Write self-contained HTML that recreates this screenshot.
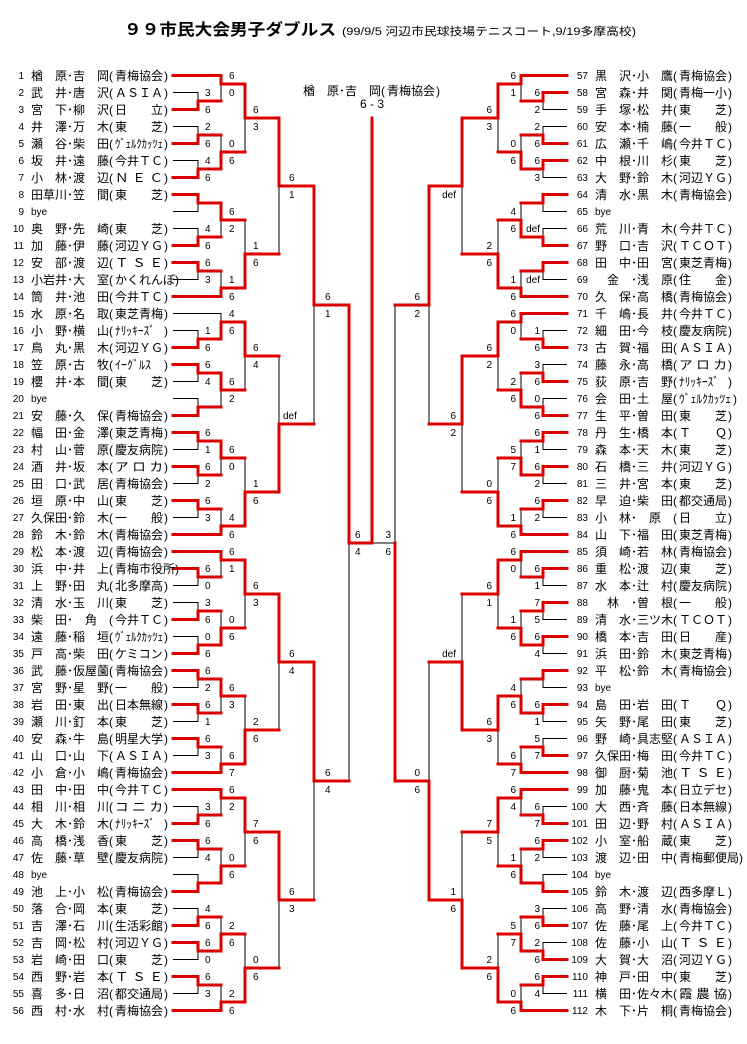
<!DOCTYPE html>
<html><head><meta charset="utf-8">
<style>
html,body{margin:0;padding:0;background:#fff;}
svg{display:block;}
.n{font-family:"Liberation Sans","Noto Sans CJK JP",sans-serif;font-size:12px;fill:#000;}
.d{font-family:"Liberation Sans",sans-serif;font-size:10px;fill:#000;}
.e{text-anchor:end;}
.t{font-family:"Liberation Sans","Noto Sans CJK JP",sans-serif;fill:#000;}
</style></head><body>
<svg width="747" height="1044" viewBox="0 0 747 1044" xmlns="http://www.w3.org/2000/svg">
<rect width="747" height="1044" fill="#fff"/>
<text class="t" x="124" y="35" font-size="16" font-weight="bold" textLength="212" lengthAdjust="spacingAndGlyphs">９９市民大会男子ダブルス</text>
<text class="t" x="342" y="35" font-size="11" textLength="294" lengthAdjust="spacingAndGlyphs">(99/9/5 河辺市民球技場テニスコート,9/19多摩高校)</text>
<text class="n" y="95"><tspan x="303">楢　原</tspan><tspan x="339">･</tspan><tspan x="345">吉　岡</tspan><tspan x="381">(</tspan><tspan x="387">青梅協会</tspan><tspan x="436">)</tspan></text>
<text class="n" x="372" y="108" text-anchor="middle">6 - 3</text>

<g fill="none" stroke="#000" stroke-width="1" shape-rendering="crispEdges">
<path d="M173 92.5H198V101M173 126.5H198V135M173 160.5H198V169M173 211.5H198V203M173 228.5H198V237M173 279.5H198V271M173 330.5H198V339M173 381.5H198V373M173 398.5H198V407M173 449.5H198V441M173 483.5H198V475M173 517.5H198V509M173 585.5H198V577M173 602.5H198V611M173 636.5H198V645M173 687.5H198V679M173 721.5H198V713M173 755.5H198V747M173 806.5H198V815M173 857.5H198V849M173 874.5H198V883M173 908.5H198V917M173 959.5H198V951M173 993.5H198V985"/>
<path d="M221 101V84M221 135V152M221 237V220M221 271V288M173 313.5H221V322M221 407V390M221 475V458M221 509V526M221 577V560M221 611V628M221 713V696M221 747V764M221 815V798M221 849V866M221 917V934M221 985V1002"/>
<path d="M245 152V118M245 220V254M245 390V356M245 458V492M245 628V594M245 696V730M245 866V832M245 934V968"/>
<path d="M279 254V186M279 356V424M279 730V662M279 968V900M314 424V305M314 900V781M349 781V543"/>
<path d="M567 109.5H543V101M567 126.5H543V135M567 177.5H543V169M567 211.5H543V203M567 228.5H543V237M567 279.5H543V271M567 330.5H543V339M567 364.5H543V373M567 398.5H543V407M567 449.5H543V441M567 483.5H543V475M567 517.5H543V509M567 585.5H543V577M567 619.5H543V611M567 653.5H543V645M567 687.5H543V679M567 721.5H543V713M567 738.5H543V747M567 806.5H543V815M567 857.5H543V849M567 874.5H543V883M567 908.5H543V917M567 942.5H543V951M567 993.5H543V985"/>
<path d="M521 101V84M521 135V152M521 203V220M521 271V288M521 339V322M521 373V390M521 441V458M521 509V526M521 577V560M521 611V628M521 679V696M521 747V764M521 815V798M521 849V866M521 917V934M521 985V1002"/>
<path d="M498 152V118M498 220V254M498 390V356M498 458V492M498 628V594M498 764V730M498 866V832M498 934V968"/>
<path d="M462 254V186M462 492V424M462 594V662M462 832V900M429 424V305M429 662V781M395 305V543H372"/>
</g>

<g fill="none" stroke="#dc0000" stroke-width="3" stroke-linecap="square" shape-rendering="crispEdges">
<path d="M173 109.5H198V101H221M173 143.5H198V135H221M173 177.5H198V169H221M173 194.5H198V203H221M173 245.5H198V237H221M173 262.5H198V271H221M173 347.5H198V339H221M173 364.5H198V373H221M173 415.5H198V407H221M173 432.5H198V441H221M173 466.5H198V475H221M173 500.5H198V509H221M173 568.5H198V577H221M173 619.5H198V611H221M173 653.5H198V645H221M173 670.5H198V679H221M173 704.5H198V713H221M173 738.5H198V747H221M173 823.5H198V815H221M173 840.5H198V849H221M173 891.5H198V883H221M173 925.5H198V917H221M173 942.5H198V951H221M173 976.5H198V985H221"/>
<path d="M173 75.5H221V84H245M221 169V152H245M221 203V220H245M173 296.5H221V288H245M221 339V322H245M221 373V390H245M221 441V458H245M173 534.5H221V526H245M173 551.5H221V560H245M221 645V628H245M221 679V696H245M173 772.5H221V764H245M173 789.5H221V798H245M221 883V866H245M221 951V934H245M173 1010.5H221V1002H245"/>
<path d="M245 84V118H279M245 288V254H279M245 322V356H279M245 526V492H279M245 560V594H279M245 764V730H279M245 798V832H279M245 1002V968H279"/>
<path d="M279 118V186H314M279 492V424H314M279 594V662H314M279 832V900H314M314 186V305H349M314 662V781H349M349 305V543H372V118"/>
<path d="M567 92.5H543V101H521M567 143.5H543V135H521M567 160.5H543V169H521M567 194.5H543V203H521M567 245.5H543V237H521M567 262.5H543V271H521M567 347.5H543V339H521M567 381.5H543V373H521M567 415.5H543V407H521M567 432.5H543V441H521M567 466.5H543V475H521M567 500.5H543V509H521M567 568.5H543V577H521M567 602.5H543V611H521M567 636.5H543V645H521M567 670.5H543V679H521M567 704.5H543V713H521M567 755.5H543V747H521M567 823.5H543V815H521M567 840.5H543V849H521M567 891.5H543V883H521M567 925.5H543V917H521M567 959.5H543V951H521M567 976.5H543V985H521"/>
<path d="M567 75.5H521V84H498M521 169V152H498M521 237V220H498M567 296.5H521V288H498M567 313.5H521V322H498M521 407V390H498M521 475V458H498M567 534.5H521V526H498M567 551.5H521V560H498M521 645V628H498M521 713V696H498M567 772.5H521V764H498M567 789.5H521V798H498M521 883V866H498M521 951V934H498M567 1010.5H521V1002H498"/>
<path d="M498 84V118H462M498 288V254H462M498 322V356H462M498 526V492H462M498 560V594H462M498 696V730H462M498 798V832H462M498 1002V968H462"/>
<path d="M462 118V186H429M462 356V424H429M462 730V662H429M462 968V900H429M429 186V305H395M429 900V781H395M395 781V543"/>
</g>

<g transform="translate(0,0)"><text class="d e" x="24" y="79">1</text><text class="n" y="80"><tspan x="31">楢　原</tspan><tspan x="67">･</tspan><tspan x="73">吉　岡</tspan><tspan x="109">(</tspan><tspan x="115">青梅協会</tspan><tspan x="164">)</tspan></text><text class="d e" x="588" y="79">57</text><text class="n" y="80"><tspan x="595">黒　沢</tspan><tspan x="631">･</tspan><tspan x="637">小　鷹</tspan><tspan x="673">(</tspan><tspan x="679">青梅協会</tspan><tspan x="728">)</tspan></text><text class="d" x="229" y="79">6</text><text class="d e" x="516" y="79">6</text></g>
<g transform="translate(0,17)"><text class="d e" x="24" y="79">2</text><text class="n" y="80"><tspan x="31">武　井</tspan><tspan x="67">･</tspan><tspan x="73">唐　沢</tspan><tspan x="109">(</tspan><tspan x="115">ＡＳＩＡ</tspan><tspan x="164">)</tspan></text><text class="d e" x="588" y="79">58</text><text class="n" y="80"><tspan x="595">宮　森</tspan><tspan x="631">･</tspan><tspan x="637">井　関</tspan><tspan x="673">(</tspan><tspan x="679">青梅一小</tspan><tspan x="728">)</tspan></text><text class="d" x="205" y="79">3</text><text class="d" x="229" y="79">0</text><text class="d e" x="540" y="79">6</text><text class="d e" x="516" y="79">1</text></g>
<g transform="translate(0,34)"><text class="d e" x="24" y="79">3</text><text class="n" y="80"><tspan x="31">宮　下</tspan><tspan x="67">･</tspan><tspan x="73">柳　沢</tspan><tspan x="109">(</tspan><tspan x="115">日　　立</tspan><tspan x="164">)</tspan></text><text class="d e" x="588" y="79">59</text><text class="n" y="80"><tspan x="595">手　塚</tspan><tspan x="631">･</tspan><tspan x="637">松　井</tspan><tspan x="673">(</tspan><tspan x="679">東　　芝</tspan><tspan x="728">)</tspan></text><text class="d" x="205" y="79">6</text><text class="d" x="253" y="79">6</text><text class="d e" x="540" y="79">2</text><text class="d e" x="492" y="79">6</text></g>
<g transform="translate(0,51)"><text class="d e" x="24" y="79">4</text><text class="n" y="80"><tspan x="31">井　澤</tspan><tspan x="67">･</tspan><tspan x="73">万　木</tspan><tspan x="109">(</tspan><tspan x="115">東　　芝</tspan><tspan x="164">)</tspan></text><text class="d e" x="588" y="79">60</text><text class="n" y="80"><tspan x="595">安　本</tspan><tspan x="631">･</tspan><tspan x="637">楠　藤</tspan><tspan x="673">(</tspan><tspan x="679">一　　般</tspan><tspan x="728">)</tspan></text><text class="d" x="205" y="79">2</text><text class="d" x="253" y="79">3</text><text class="d e" x="540" y="79">2</text><text class="d e" x="492" y="79">3</text></g>
<g transform="translate(0,68)"><text class="d e" x="24" y="79">5</text><text class="n" y="80"><tspan x="31">瀬　谷</tspan><tspan x="67">･</tspan><tspan x="73">柴　田</tspan><tspan x="109">(</tspan><tspan x="164">)</tspan></text><text class="n" x="115" y="80" textLength="48" lengthAdjust="spacingAndGlyphs">ｳﾞｪﾙｸｶｯﾂｪ</text><text class="d e" x="588" y="79">61</text><text class="n" y="80"><tspan x="595">広　瀬</tspan><tspan x="631">･</tspan><tspan x="637">千　嶋</tspan><tspan x="673">(</tspan><tspan x="679">今井ＴＣ</tspan><tspan x="728">)</tspan></text><text class="d" x="205" y="79">6</text><text class="d" x="229" y="79">0</text><text class="d e" x="540" y="79">6</text><text class="d e" x="516" y="79">0</text></g>
<g transform="translate(0,85)"><text class="d e" x="24" y="79">6</text><text class="n" y="80"><tspan x="31">坂　井</tspan><tspan x="67">･</tspan><tspan x="73">遠　藤</tspan><tspan x="109">(</tspan><tspan x="115">今井ＴＣ</tspan><tspan x="164">)</tspan></text><text class="d e" x="588" y="79">62</text><text class="n" y="80"><tspan x="595">中　根</tspan><tspan x="631">･</tspan><tspan x="637">川　杉</tspan><tspan x="673">(</tspan><tspan x="679">東　　芝</tspan><tspan x="728">)</tspan></text><text class="d" x="205" y="79">4</text><text class="d" x="229" y="79">6</text><text class="d e" x="540" y="79">6</text><text class="d e" x="516" y="79">6</text></g>
<g transform="translate(0,102)"><text class="d e" x="24" y="79">7</text><text class="n" y="80"><tspan x="31">小　林</tspan><tspan x="67">･</tspan><tspan x="73">渡　辺</tspan><tspan x="109">(</tspan><tspan x="164">)</tspan></text><text class="n" x="115" y="80" textLength="48" lengthAdjust="spacingAndGlyphs">Ｎ Ｅ Ｃ</text><text class="d e" x="588" y="79">63</text><text class="n" y="80"><tspan x="595">大　野</tspan><tspan x="631">･</tspan><tspan x="637">鈴　木</tspan><tspan x="673">(</tspan><tspan x="679">河辺ＹＧ</tspan><tspan x="728">)</tspan></text><text class="d" x="205" y="79">6</text><text class="d" x="289" y="79">6</text><text class="d e" x="540" y="79">3</text></g>
<g transform="translate(0,119)"><text class="d e" x="24" y="79">8</text><text class="n" y="80"><tspan x="31">田草川</tspan><tspan x="67">･</tspan><tspan x="73">笠　間</tspan><tspan x="109">(</tspan><tspan x="115">東　　芝</tspan><tspan x="164">)</tspan></text><text class="d e" x="588" y="79">64</text><text class="n" y="80"><tspan x="595">清　水</tspan><tspan x="631">･</tspan><tspan x="637">黒　木</tspan><tspan x="673">(</tspan><tspan x="679">青梅協会</tspan><tspan x="728">)</tspan></text><text class="d" x="289" y="79">1</text><text class="d e" x="456" y="79">def</text></g>
<g transform="translate(0,136)"><text class="d e" x="24" y="79">9</text><text class="d" x="31" y="79">bye</text><text class="d e" x="588" y="79">65</text><text class="d" x="595" y="79">bye</text><text class="d" x="229" y="79">6</text><text class="d e" x="516" y="79">4</text></g>
<g transform="translate(0,153)"><text class="d e" x="24" y="79">10</text><text class="n" y="80"><tspan x="31">奥　野</tspan><tspan x="67">･</tspan><tspan x="73">先　崎</tspan><tspan x="109">(</tspan><tspan x="115">東　　芝</tspan><tspan x="164">)</tspan></text><text class="d e" x="588" y="79">66</text><text class="n" y="80"><tspan x="595">荒　川</tspan><tspan x="631">･</tspan><tspan x="637">青　木</tspan><tspan x="673">(</tspan><tspan x="679">今井ＴＣ</tspan><tspan x="728">)</tspan></text><text class="d" x="205" y="79">4</text><text class="d" x="229" y="79">2</text><text class="d e" x="540" y="79">def</text><text class="d e" x="516" y="79">6</text></g>
<g transform="translate(0,170)"><text class="d e" x="24" y="79">11</text><text class="n" y="80"><tspan x="31">加　藤</tspan><tspan x="67">･</tspan><tspan x="73">伊　藤</tspan><tspan x="109">(</tspan><tspan x="115">河辺ＹＧ</tspan><tspan x="164">)</tspan></text><text class="d e" x="588" y="79">67</text><text class="n" y="80"><tspan x="595">野　口</tspan><tspan x="631">･</tspan><tspan x="637">吉　沢</tspan><tspan x="673">(</tspan><tspan x="679">ＴＣＯＴ</tspan><tspan x="728">)</tspan></text><text class="d" x="205" y="79">6</text><text class="d" x="253" y="79">1</text><text class="d e" x="492" y="79">2</text></g>
<g transform="translate(0,187)"><text class="d e" x="24" y="79">12</text><text class="n" y="80"><tspan x="31">安　部</tspan><tspan x="67">･</tspan><tspan x="73">渡　辺</tspan><tspan x="109">(</tspan><tspan x="164">)</tspan></text><text class="n" x="115" y="80" textLength="48" lengthAdjust="spacingAndGlyphs">Ｔ Ｓ Ｅ</text><text class="d e" x="588" y="79">68</text><text class="n" y="80"><tspan x="595">田　中</tspan><tspan x="631">･</tspan><tspan x="637">田　宮</tspan><tspan x="673">(</tspan><tspan x="679">東芝青梅</tspan><tspan x="728">)</tspan></text><text class="d" x="205" y="79">6</text><text class="d" x="253" y="79">6</text><text class="d e" x="492" y="79">6</text></g>
<g transform="translate(0,204)"><text class="d e" x="24" y="79">13</text><text class="n" y="80"><tspan x="31">小岩井</tspan><tspan x="67">･</tspan><tspan x="73">大　室</tspan><tspan x="109">(</tspan><tspan x="115">かくれんぼ</tspan><tspan x="175">)</tspan></text><text class="d e" x="588" y="79">69</text><text class="n" y="80"><tspan x="595">　金　</tspan><tspan x="631">･</tspan><tspan x="637">浅　原</tspan><tspan x="673">(</tspan><tspan x="679">住　　金</tspan><tspan x="728">)</tspan></text><text class="d" x="205" y="79">3</text><text class="d" x="229" y="79">1</text><text class="d e" x="540" y="79">def</text><text class="d e" x="516" y="79">1</text></g>
<g transform="translate(0,221)"><text class="d e" x="24" y="79">14</text><text class="n" y="80"><tspan x="31">筒　井</tspan><tspan x="67">･</tspan><tspan x="73">池　田</tspan><tspan x="109">(</tspan><tspan x="115">今井ＴＣ</tspan><tspan x="164">)</tspan></text><text class="d e" x="588" y="79">70</text><text class="n" y="80"><tspan x="595">久　保</tspan><tspan x="631">･</tspan><tspan x="637">高　橋</tspan><tspan x="673">(</tspan><tspan x="679">青梅協会</tspan><tspan x="728">)</tspan></text><text class="d" x="229" y="79">6</text><text class="d" x="325" y="79">6</text><text class="d e" x="516" y="79">6</text><text class="d e" x="420" y="79">6</text></g>
<g transform="translate(0,238)"><text class="d e" x="24" y="79">15</text><text class="n" y="80"><tspan x="31">水　原</tspan><tspan x="67">･</tspan><tspan x="73">名　取</tspan><tspan x="109">(</tspan><tspan x="115">東芝青梅</tspan><tspan x="164">)</tspan></text><text class="d e" x="588" y="79">71</text><text class="n" y="80"><tspan x="595">千　嶋</tspan><tspan x="631">･</tspan><tspan x="637">長　井</tspan><tspan x="673">(</tspan><tspan x="679">今井ＴＣ</tspan><tspan x="728">)</tspan></text><text class="d" x="229" y="79">4</text><text class="d" x="325" y="79">1</text><text class="d e" x="516" y="79">6</text><text class="d e" x="420" y="79">2</text></g>
<g transform="translate(0,255)"><text class="d e" x="24" y="79">16</text><text class="n" y="80"><tspan x="31">小　野</tspan><tspan x="67">･</tspan><tspan x="73">横　山</tspan><tspan x="109">(</tspan><tspan x="164">)</tspan></text><text class="n" x="115" y="80" textLength="40" lengthAdjust="spacingAndGlyphs">ﾅﾘｯｷｰｽﾞ</text><text class="d e" x="588" y="79">72</text><text class="n" y="80"><tspan x="595">細　田</tspan><tspan x="631">･</tspan><tspan x="637">今　枝</tspan><tspan x="673">(</tspan><tspan x="679">慶友病院</tspan><tspan x="728">)</tspan></text><text class="d" x="205" y="79">1</text><text class="d" x="229" y="79">6</text><text class="d e" x="540" y="79">1</text><text class="d e" x="516" y="79">0</text></g>
<g transform="translate(0,272)"><text class="d e" x="24" y="79">17</text><text class="n" y="80"><tspan x="31">鳥　丸</tspan><tspan x="67">･</tspan><tspan x="73">黒　木</tspan><tspan x="109">(</tspan><tspan x="115">河辺ＹＧ</tspan><tspan x="164">)</tspan></text><text class="d e" x="588" y="79">73</text><text class="n" y="80"><tspan x="595">古　賀</tspan><tspan x="631">･</tspan><tspan x="637">福　田</tspan><tspan x="673">(</tspan><tspan x="679">ＡＳＩＡ</tspan><tspan x="728">)</tspan></text><text class="d" x="205" y="79">6</text><text class="d" x="253" y="79">6</text><text class="d e" x="540" y="79">6</text><text class="d e" x="492" y="79">6</text></g>
<g transform="translate(0,289)"><text class="d e" x="24" y="79">18</text><text class="n" y="80"><tspan x="31">笠　原</tspan><tspan x="67">･</tspan><tspan x="73">古　牧</tspan><tspan x="109">(</tspan><tspan x="164">)</tspan></text><text class="n" x="115" y="80" textLength="36" lengthAdjust="spacingAndGlyphs">ｲｰｸﾞﾙｽ</text><text class="d e" x="588" y="79">74</text><text class="n" y="80"><tspan x="595">藤　永</tspan><tspan x="631">･</tspan><tspan x="637">高　橋</tspan><tspan x="673">(</tspan><tspan x="728">)</tspan></text><text class="n" x="679" y="80" textLength="48" lengthAdjust="spacingAndGlyphs">ア ロ カ</text><text class="d" x="205" y="79">6</text><text class="d" x="253" y="79">4</text><text class="d e" x="540" y="79">3</text><text class="d e" x="492" y="79">2</text></g>
<g transform="translate(0,306)"><text class="d e" x="24" y="79">19</text><text class="n" y="80"><tspan x="31">櫻　井</tspan><tspan x="67">･</tspan><tspan x="73">本　間</tspan><tspan x="109">(</tspan><tspan x="115">東　　芝</tspan><tspan x="164">)</tspan></text><text class="d e" x="588" y="79">75</text><text class="n" y="80"><tspan x="595">荻　原</tspan><tspan x="631">･</tspan><tspan x="637">吉　野</tspan><tspan x="673">(</tspan><tspan x="728">)</tspan></text><text class="n" x="679" y="80" textLength="40" lengthAdjust="spacingAndGlyphs">ﾅﾘｯｷｰｽﾞ</text><text class="d" x="205" y="79">4</text><text class="d" x="229" y="79">6</text><text class="d e" x="540" y="79">6</text><text class="d e" x="516" y="79">2</text></g>
<g transform="translate(0,323)"><text class="d e" x="24" y="79">20</text><text class="d" x="31" y="79">bye</text><text class="d e" x="588" y="79">76</text><text class="n" y="80"><tspan x="595">会　田</tspan><tspan x="631">･</tspan><tspan x="637">土　屋</tspan><tspan x="673">(</tspan><tspan x="733">)</tspan></text><text class="n" x="679" y="80" textLength="52" lengthAdjust="spacingAndGlyphs">ｳﾞｪﾙｸｶｯﾂｪ</text><text class="d" x="229" y="79">2</text><text class="d e" x="540" y="79">0</text><text class="d e" x="516" y="79">6</text></g>
<g transform="translate(0,340)"><text class="d e" x="24" y="79">21</text><text class="n" y="80"><tspan x="31">安　藤</tspan><tspan x="67">･</tspan><tspan x="73">久　保</tspan><tspan x="109">(</tspan><tspan x="115">青梅協会</tspan><tspan x="164">)</tspan></text><text class="d e" x="588" y="79">77</text><text class="n" y="80"><tspan x="595">生　平</tspan><tspan x="631">･</tspan><tspan x="637">曽　田</tspan><tspan x="673">(</tspan><tspan x="679">東　　芝</tspan><tspan x="728">)</tspan></text><text class="d" x="283" y="79">def</text><text class="d e" x="540" y="79">6</text><text class="d e" x="456" y="79">6</text></g>
<g transform="translate(0,357)"><text class="d e" x="24" y="79">22</text><text class="n" y="80"><tspan x="31">幅　田</tspan><tspan x="67">･</tspan><tspan x="73">金　澤</tspan><tspan x="109">(</tspan><tspan x="115">東芝青梅</tspan><tspan x="164">)</tspan></text><text class="d e" x="588" y="79">78</text><text class="n" y="80"><tspan x="595">丹　生</tspan><tspan x="631">･</tspan><tspan x="637">橋　本</tspan><tspan x="673">(</tspan><tspan x="679">Ｔ　　Ｑ</tspan><tspan x="728">)</tspan></text><text class="d" x="205" y="79">6</text><text class="d e" x="540" y="79">6</text><text class="d e" x="456" y="79">2</text></g>
<g transform="translate(0,374)"><text class="d e" x="24" y="79">23</text><text class="n" y="80"><tspan x="31">村　山</tspan><tspan x="67">･</tspan><tspan x="73">菅　原</tspan><tspan x="109">(</tspan><tspan x="115">慶友病院</tspan><tspan x="164">)</tspan></text><text class="d e" x="588" y="79">79</text><text class="n" y="80"><tspan x="595">森　本</tspan><tspan x="631">･</tspan><tspan x="637">天　木</tspan><tspan x="673">(</tspan><tspan x="679">東　　芝</tspan><tspan x="728">)</tspan></text><text class="d" x="205" y="79">1</text><text class="d" x="229" y="79">6</text><text class="d e" x="540" y="79">1</text><text class="d e" x="516" y="79">5</text></g>
<g transform="translate(0,391)"><text class="d e" x="24" y="79">24</text><text class="n" y="80"><tspan x="31">酒　井</tspan><tspan x="67">･</tspan><tspan x="73">坂　本</tspan><tspan x="109">(</tspan><tspan x="164">)</tspan></text><text class="n" x="115" y="80" textLength="48" lengthAdjust="spacingAndGlyphs">ア ロ カ</text><text class="d e" x="588" y="79">80</text><text class="n" y="80"><tspan x="595">石　橋</tspan><tspan x="631">･</tspan><tspan x="637">三　井</tspan><tspan x="673">(</tspan><tspan x="679">河辺ＹＧ</tspan><tspan x="728">)</tspan></text><text class="d" x="205" y="79">6</text><text class="d" x="229" y="79">0</text><text class="d e" x="540" y="79">6</text><text class="d e" x="516" y="79">7</text></g>
<g transform="translate(0,408)"><text class="d e" x="24" y="79">25</text><text class="n" y="80"><tspan x="31">田　口</tspan><tspan x="67">･</tspan><tspan x="73">武　居</tspan><tspan x="109">(</tspan><tspan x="115">青梅協会</tspan><tspan x="164">)</tspan></text><text class="d e" x="588" y="79">81</text><text class="n" y="80"><tspan x="595">三　井</tspan><tspan x="631">･</tspan><tspan x="637">宮　本</tspan><tspan x="673">(</tspan><tspan x="679">東　　芝</tspan><tspan x="728">)</tspan></text><text class="d" x="205" y="79">2</text><text class="d" x="253" y="79">1</text><text class="d e" x="540" y="79">2</text><text class="d e" x="492" y="79">0</text></g>
<g transform="translate(0,425)"><text class="d e" x="24" y="79">26</text><text class="n" y="80"><tspan x="31">垣　原</tspan><tspan x="67">･</tspan><tspan x="73">中　山</tspan><tspan x="109">(</tspan><tspan x="115">東　　芝</tspan><tspan x="164">)</tspan></text><text class="d e" x="588" y="79">82</text><text class="n" y="80"><tspan x="595">早　迫</tspan><tspan x="631">･</tspan><tspan x="637">柴　田</tspan><tspan x="673">(</tspan><tspan x="679">都交通局</tspan><tspan x="728">)</tspan></text><text class="d" x="205" y="79">6</text><text class="d" x="253" y="79">6</text><text class="d e" x="540" y="79">6</text><text class="d e" x="492" y="79">6</text></g>
<g transform="translate(0,442)"><text class="d e" x="24" y="79">27</text><text class="n" y="80"><tspan x="31">久保田</tspan><tspan x="67">･</tspan><tspan x="73">鈴　木</tspan><tspan x="109">(</tspan><tspan x="115">一　　般</tspan><tspan x="164">)</tspan></text><text class="d e" x="588" y="79">83</text><text class="n" y="80"><tspan x="595">小　林</tspan><tspan x="631">･</tspan><tspan x="637">　原　</tspan><tspan x="673">(</tspan><tspan x="679">日　　立</tspan><tspan x="728">)</tspan></text><text class="d" x="205" y="79">3</text><text class="d" x="229" y="79">4</text><text class="d e" x="540" y="79">2</text><text class="d e" x="516" y="79">1</text></g>
<g transform="translate(0,459)"><text class="d e" x="24" y="79">28</text><text class="n" y="80"><tspan x="31">鈴　木</tspan><tspan x="67">･</tspan><tspan x="73">鈴　木</tspan><tspan x="109">(</tspan><tspan x="115">青梅協会</tspan><tspan x="164">)</tspan></text><text class="d e" x="588" y="79">84</text><text class="n" y="80"><tspan x="595">山　下</tspan><tspan x="631">･</tspan><tspan x="637">福　田</tspan><tspan x="673">(</tspan><tspan x="679">東芝青梅</tspan><tspan x="728">)</tspan></text><text class="d" x="229" y="79">6</text><text class="d" x="355" y="79">6</text><text class="d e" x="516" y="79">6</text><text class="d e" x="391" y="79">3</text></g>
<g transform="translate(0,476)"><text class="d e" x="24" y="79">29</text><text class="n" y="80"><tspan x="31">松　本</tspan><tspan x="67">･</tspan><tspan x="73">渡　辺</tspan><tspan x="109">(</tspan><tspan x="115">青梅協会</tspan><tspan x="164">)</tspan></text><text class="d e" x="588" y="79">85</text><text class="n" y="80"><tspan x="595">須　崎</tspan><tspan x="631">･</tspan><tspan x="637">若　林</tspan><tspan x="673">(</tspan><tspan x="679">青梅協会</tspan><tspan x="728">)</tspan></text><text class="d" x="229" y="79">6</text><text class="d" x="355" y="79">4</text><text class="d e" x="516" y="79">6</text><text class="d e" x="391" y="79">6</text></g>
<g transform="translate(0,493)"><text class="d e" x="24" y="79">30</text><text class="n" y="80"><tspan x="31">浜　中</tspan><tspan x="67">･</tspan><tspan x="73">井　上</tspan><tspan x="109">(</tspan><tspan x="115">青梅市役所</tspan><tspan x="175">)</tspan></text><text class="d e" x="588" y="79">86</text><text class="n" y="80"><tspan x="595">重　松</tspan><tspan x="631">･</tspan><tspan x="637">渡　辺</tspan><tspan x="673">(</tspan><tspan x="679">東　　芝</tspan><tspan x="728">)</tspan></text><text class="d" x="205" y="79">6</text><text class="d" x="229" y="79">1</text><text class="d e" x="540" y="79">6</text><text class="d e" x="516" y="79">0</text></g>
<g transform="translate(0,510)"><text class="d e" x="24" y="79">31</text><text class="n" y="80"><tspan x="31">上　野</tspan><tspan x="67">･</tspan><tspan x="73">田　丸</tspan><tspan x="109">(</tspan><tspan x="115">北多摩高</tspan><tspan x="164">)</tspan></text><text class="d e" x="588" y="79">87</text><text class="n" y="80"><tspan x="595">水　本</tspan><tspan x="631">･</tspan><tspan x="637">辻　村</tspan><tspan x="673">(</tspan><tspan x="679">慶友病院</tspan><tspan x="728">)</tspan></text><text class="d" x="205" y="79">0</text><text class="d" x="253" y="79">6</text><text class="d e" x="540" y="79">1</text><text class="d e" x="492" y="79">6</text></g>
<g transform="translate(0,527)"><text class="d e" x="24" y="79">32</text><text class="n" y="80"><tspan x="31">清　水</tspan><tspan x="67">･</tspan><tspan x="73">玉　川</tspan><tspan x="109">(</tspan><tspan x="115">東　　芝</tspan><tspan x="164">)</tspan></text><text class="d e" x="588" y="79">88</text><text class="n" y="80"><tspan x="595">　林　</tspan><tspan x="631">･</tspan><tspan x="637">曽　根</tspan><tspan x="673">(</tspan><tspan x="679">一　　般</tspan><tspan x="728">)</tspan></text><text class="d" x="205" y="79">3</text><text class="d" x="253" y="79">3</text><text class="d e" x="540" y="79">7</text><text class="d e" x="492" y="79">1</text></g>
<g transform="translate(0,544)"><text class="d e" x="24" y="79">33</text><text class="n" y="80"><tspan x="31">柴　田</tspan><tspan x="67">･</tspan><tspan x="73">　角　</tspan><tspan x="109">(</tspan><tspan x="115">今井ＴＣ</tspan><tspan x="164">)</tspan></text><text class="d e" x="588" y="79">89</text><text class="n" y="80"><tspan x="595">清　水</tspan><tspan x="631">･</tspan><tspan x="637">三ツ木</tspan><tspan x="673">(</tspan><tspan x="679">ＴＣＯＴ</tspan><tspan x="728">)</tspan></text><text class="d" x="205" y="79">6</text><text class="d" x="229" y="79">0</text><text class="d e" x="540" y="79">5</text><text class="d e" x="516" y="79">1</text></g>
<g transform="translate(0,561)"><text class="d e" x="24" y="79">34</text><text class="n" y="80"><tspan x="31">遠　藤</tspan><tspan x="67">･</tspan><tspan x="73">稲　垣</tspan><tspan x="109">(</tspan><tspan x="164">)</tspan></text><text class="n" x="115" y="80" textLength="48" lengthAdjust="spacingAndGlyphs">ｳﾞｪﾙｸｶｯﾂｪ</text><text class="d e" x="588" y="79">90</text><text class="n" y="80"><tspan x="595">橋　本</tspan><tspan x="631">･</tspan><tspan x="637">吉　田</tspan><tspan x="673">(</tspan><tspan x="679">日　　産</tspan><tspan x="728">)</tspan></text><text class="d" x="205" y="79">0</text><text class="d" x="229" y="79">6</text><text class="d e" x="540" y="79">6</text><text class="d e" x="516" y="79">6</text></g>
<g transform="translate(0,578)"><text class="d e" x="24" y="79">35</text><text class="n" y="80"><tspan x="31">戸　高</tspan><tspan x="67">･</tspan><tspan x="73">柴　田</tspan><tspan x="109">(</tspan><tspan x="115">ケミコン</tspan><tspan x="164">)</tspan></text><text class="d e" x="588" y="79">91</text><text class="n" y="80"><tspan x="595">浜　田</tspan><tspan x="631">･</tspan><tspan x="637">鈴　木</tspan><tspan x="673">(</tspan><tspan x="679">東芝青梅</tspan><tspan x="728">)</tspan></text><text class="d" x="205" y="79">6</text><text class="d" x="289" y="79">6</text><text class="d e" x="540" y="79">4</text><text class="d e" x="456" y="79">def</text></g>
<g transform="translate(0,595)"><text class="d e" x="24" y="79">36</text><text class="n" y="80"><tspan x="31">武　藤</tspan><tspan x="67">･</tspan><tspan x="73">仮屋薗</tspan><tspan x="109">(</tspan><tspan x="115">青梅協会</tspan><tspan x="164">)</tspan></text><text class="d e" x="588" y="79">92</text><text class="n" y="80"><tspan x="595">平　松</tspan><tspan x="631">･</tspan><tspan x="637">鈴　木</tspan><tspan x="673">(</tspan><tspan x="679">青梅協会</tspan><tspan x="728">)</tspan></text><text class="d" x="205" y="79">6</text><text class="d" x="289" y="79">4</text></g>
<g transform="translate(0,612)"><text class="d e" x="24" y="79">37</text><text class="n" y="80"><tspan x="31">宮　野</tspan><tspan x="67">･</tspan><tspan x="73">星　野</tspan><tspan x="109">(</tspan><tspan x="115">一　　般</tspan><tspan x="164">)</tspan></text><text class="d e" x="588" y="79">93</text><text class="d" x="595" y="79">bye</text><text class="d" x="205" y="79">2</text><text class="d" x="229" y="79">6</text><text class="d e" x="516" y="79">4</text></g>
<g transform="translate(0,629)"><text class="d e" x="24" y="79">38</text><text class="n" y="80"><tspan x="31">岩　田</tspan><tspan x="67">･</tspan><tspan x="73">東　出</tspan><tspan x="109">(</tspan><tspan x="115">日本無線</tspan><tspan x="164">)</tspan></text><text class="d e" x="588" y="79">94</text><text class="n" y="80"><tspan x="595">島　田</tspan><tspan x="631">･</tspan><tspan x="637">岩　田</tspan><tspan x="673">(</tspan><tspan x="679">Ｔ　　Ｑ</tspan><tspan x="728">)</tspan></text><text class="d" x="205" y="79">6</text><text class="d" x="229" y="79">3</text><text class="d e" x="540" y="79">6</text><text class="d e" x="516" y="79">6</text></g>
<g transform="translate(0,646)"><text class="d e" x="24" y="79">39</text><text class="n" y="80"><tspan x="31">瀬　川</tspan><tspan x="67">･</tspan><tspan x="73">釘　本</tspan><tspan x="109">(</tspan><tspan x="115">東　　芝</tspan><tspan x="164">)</tspan></text><text class="d e" x="588" y="79">95</text><text class="n" y="80"><tspan x="595">矢　野</tspan><tspan x="631">･</tspan><tspan x="637">尾　田</tspan><tspan x="673">(</tspan><tspan x="679">東　　芝</tspan><tspan x="728">)</tspan></text><text class="d" x="205" y="79">1</text><text class="d" x="253" y="79">2</text><text class="d e" x="540" y="79">1</text><text class="d e" x="492" y="79">6</text></g>
<g transform="translate(0,663)"><text class="d e" x="24" y="79">40</text><text class="n" y="80"><tspan x="31">安　森</tspan><tspan x="67">･</tspan><tspan x="73">牛　島</tspan><tspan x="109">(</tspan><tspan x="115">明星大学</tspan><tspan x="164">)</tspan></text><text class="d e" x="588" y="79">96</text><text class="n" y="80"><tspan x="595">野　崎</tspan><tspan x="631">･</tspan><tspan x="637">具志堅</tspan><tspan x="673">(</tspan><tspan x="679">ＡＳＩＡ</tspan><tspan x="728">)</tspan></text><text class="d" x="205" y="79">6</text><text class="d" x="253" y="79">6</text><text class="d e" x="540" y="79">5</text><text class="d e" x="492" y="79">3</text></g>
<g transform="translate(0,680)"><text class="d e" x="24" y="79">41</text><text class="n" y="80"><tspan x="31">山　口</tspan><tspan x="67">･</tspan><tspan x="73">山　下</tspan><tspan x="109">(</tspan><tspan x="115">ＡＳＩＡ</tspan><tspan x="164">)</tspan></text><text class="d e" x="588" y="79">97</text><text class="n" y="80"><tspan x="595">久保田</tspan><tspan x="631">･</tspan><tspan x="637">梅　田</tspan><tspan x="673">(</tspan><tspan x="679">今井ＴＣ</tspan><tspan x="728">)</tspan></text><text class="d" x="205" y="79">3</text><text class="d" x="229" y="79">6</text><text class="d e" x="540" y="79">7</text><text class="d e" x="516" y="79">6</text></g>
<g transform="translate(0,697)"><text class="d e" x="24" y="79">42</text><text class="n" y="80"><tspan x="31">小　倉</tspan><tspan x="67">･</tspan><tspan x="73">小　嶋</tspan><tspan x="109">(</tspan><tspan x="115">青梅協会</tspan><tspan x="164">)</tspan></text><text class="d e" x="588" y="79">98</text><text class="n" y="80"><tspan x="595">御　厨</tspan><tspan x="631">･</tspan><tspan x="637">菊　池</tspan><tspan x="673">(</tspan><tspan x="728">)</tspan></text><text class="n" x="679" y="80" textLength="48" lengthAdjust="spacingAndGlyphs">Ｔ Ｓ Ｅ</text><text class="d" x="229" y="79">7</text><text class="d" x="325" y="79">6</text><text class="d e" x="516" y="79">7</text><text class="d e" x="420" y="79">0</text></g>
<g transform="translate(0,714)"><text class="d e" x="24" y="79">43</text><text class="n" y="80"><tspan x="31">田　中</tspan><tspan x="67">･</tspan><tspan x="73">田　中</tspan><tspan x="109">(</tspan><tspan x="115">今井ＴＣ</tspan><tspan x="164">)</tspan></text><text class="d e" x="588" y="79">99</text><text class="n" y="80"><tspan x="595">加　藤</tspan><tspan x="631">･</tspan><tspan x="637">鬼　本</tspan><tspan x="673">(</tspan><tspan x="679">日立デセ</tspan><tspan x="728">)</tspan></text><text class="d" x="229" y="79">6</text><text class="d" x="325" y="79">4</text><text class="d e" x="516" y="79">6</text><text class="d e" x="420" y="79">6</text></g>
<g transform="translate(0,731)"><text class="d e" x="24" y="79">44</text><text class="n" y="80"><tspan x="31">相　川</tspan><tspan x="67">･</tspan><tspan x="73">相　川</tspan><tspan x="109">(</tspan><tspan x="164">)</tspan></text><text class="n" x="115" y="80" textLength="48" lengthAdjust="spacingAndGlyphs">コ ニ カ</text><text class="d e" x="588" y="79">100</text><text class="n" y="80"><tspan x="595">大　西</tspan><tspan x="631">･</tspan><tspan x="637">斉　藤</tspan><tspan x="673">(</tspan><tspan x="679">日本無線</tspan><tspan x="728">)</tspan></text><text class="d" x="205" y="79">3</text><text class="d" x="229" y="79">2</text><text class="d e" x="540" y="79">6</text><text class="d e" x="516" y="79">4</text></g>
<g transform="translate(0,748)"><text class="d e" x="24" y="79">45</text><text class="n" y="80"><tspan x="31">大　木</tspan><tspan x="67">･</tspan><tspan x="73">鈴　木</tspan><tspan x="109">(</tspan><tspan x="164">)</tspan></text><text class="n" x="115" y="80" textLength="40" lengthAdjust="spacingAndGlyphs">ﾅﾘｯｷｰｽﾞ</text><text class="d e" x="588" y="79">101</text><text class="n" y="80"><tspan x="595">田　辺</tspan><tspan x="631">･</tspan><tspan x="637">野　村</tspan><tspan x="673">(</tspan><tspan x="679">ＡＳＩＡ</tspan><tspan x="728">)</tspan></text><text class="d" x="205" y="79">6</text><text class="d" x="253" y="79">7</text><text class="d e" x="540" y="79">7</text><text class="d e" x="492" y="79">7</text></g>
<g transform="translate(0,765)"><text class="d e" x="24" y="79">46</text><text class="n" y="80"><tspan x="31">高　橋</tspan><tspan x="67">･</tspan><tspan x="73">浅　香</tspan><tspan x="109">(</tspan><tspan x="115">東　　芝</tspan><tspan x="164">)</tspan></text><text class="d e" x="588" y="79">102</text><text class="n" y="80"><tspan x="595">小　室</tspan><tspan x="631">･</tspan><tspan x="637">船　蔵</tspan><tspan x="673">(</tspan><tspan x="679">東　　芝</tspan><tspan x="728">)</tspan></text><text class="d" x="205" y="79">6</text><text class="d" x="253" y="79">6</text><text class="d e" x="540" y="79">6</text><text class="d e" x="492" y="79">5</text></g>
<g transform="translate(0,782)"><text class="d e" x="24" y="79">47</text><text class="n" y="80"><tspan x="31">佐　藤</tspan><tspan x="67">･</tspan><tspan x="73">草　壁</tspan><tspan x="109">(</tspan><tspan x="115">慶友病院</tspan><tspan x="164">)</tspan></text><text class="d e" x="588" y="79">103</text><text class="n" y="80"><tspan x="595">渡　辺</tspan><tspan x="631">･</tspan><tspan x="637">田　中</tspan><tspan x="673">(</tspan><tspan x="679">青梅郵便局</tspan><tspan x="739">)</tspan></text><text class="d" x="205" y="79">4</text><text class="d" x="229" y="79">0</text><text class="d e" x="540" y="79">2</text><text class="d e" x="516" y="79">1</text></g>
<g transform="translate(0,799)"><text class="d e" x="24" y="79">48</text><text class="d" x="31" y="79">bye</text><text class="d e" x="588" y="79">104</text><text class="d" x="595" y="79">bye</text><text class="d" x="229" y="79">6</text><text class="d e" x="516" y="79">6</text></g>
<g transform="translate(0,816)"><text class="d e" x="24" y="79">49</text><text class="n" y="80"><tspan x="31">池　上</tspan><tspan x="67">･</tspan><tspan x="73">小　松</tspan><tspan x="109">(</tspan><tspan x="115">青梅協会</tspan><tspan x="164">)</tspan></text><text class="d e" x="588" y="79">105</text><text class="n" y="80"><tspan x="595">鈴　木</tspan><tspan x="631">･</tspan><tspan x="637">渡　辺</tspan><tspan x="673">(</tspan><tspan x="679">西多摩Ｌ</tspan><tspan x="728">)</tspan></text><text class="d" x="289" y="79">6</text><text class="d e" x="456" y="79">1</text></g>
<g transform="translate(0,833)"><text class="d e" x="24" y="79">50</text><text class="n" y="80"><tspan x="31">落　合</tspan><tspan x="67">･</tspan><tspan x="73">岡　本</tspan><tspan x="109">(</tspan><tspan x="115">東　　芝</tspan><tspan x="164">)</tspan></text><text class="d e" x="588" y="79">106</text><text class="n" y="80"><tspan x="595">高　野</tspan><tspan x="631">･</tspan><tspan x="637">清　水</tspan><tspan x="673">(</tspan><tspan x="679">青梅協会</tspan><tspan x="728">)</tspan></text><text class="d" x="205" y="79">4</text><text class="d" x="289" y="79">3</text><text class="d e" x="540" y="79">3</text><text class="d e" x="456" y="79">6</text></g>
<g transform="translate(0,850)"><text class="d e" x="24" y="79">51</text><text class="n" y="80"><tspan x="31">吉　澤</tspan><tspan x="67">･</tspan><tspan x="73">石　川</tspan><tspan x="109">(</tspan><tspan x="115">生活彩館</tspan><tspan x="164">)</tspan></text><text class="d e" x="588" y="79">107</text><text class="n" y="80"><tspan x="595">佐　藤</tspan><tspan x="631">･</tspan><tspan x="637">尾　上</tspan><tspan x="673">(</tspan><tspan x="679">今井ＴＣ</tspan><tspan x="728">)</tspan></text><text class="d" x="205" y="79">6</text><text class="d" x="229" y="79">2</text><text class="d e" x="540" y="79">6</text><text class="d e" x="516" y="79">5</text></g>
<g transform="translate(0,867)"><text class="d e" x="24" y="79">52</text><text class="n" y="80"><tspan x="31">吉　岡</tspan><tspan x="67">･</tspan><tspan x="73">松　村</tspan><tspan x="109">(</tspan><tspan x="115">河辺ＹＧ</tspan><tspan x="164">)</tspan></text><text class="d e" x="588" y="79">108</text><text class="n" y="80"><tspan x="595">佐　藤</tspan><tspan x="631">･</tspan><tspan x="637">小　山</tspan><tspan x="673">(</tspan><tspan x="728">)</tspan></text><text class="n" x="679" y="80" textLength="48" lengthAdjust="spacingAndGlyphs">Ｔ Ｓ Ｅ</text><text class="d" x="205" y="79">6</text><text class="d" x="229" y="79">6</text><text class="d e" x="540" y="79">2</text><text class="d e" x="516" y="79">7</text></g>
<g transform="translate(0,884)"><text class="d e" x="24" y="79">53</text><text class="n" y="80"><tspan x="31">岩　崎</tspan><tspan x="67">･</tspan><tspan x="73">田　口</tspan><tspan x="109">(</tspan><tspan x="115">東　　芝</tspan><tspan x="164">)</tspan></text><text class="d e" x="588" y="79">109</text><text class="n" y="80"><tspan x="595">大　賀</tspan><tspan x="631">･</tspan><tspan x="637">大　沼</tspan><tspan x="673">(</tspan><tspan x="679">河辺ＹＧ</tspan><tspan x="728">)</tspan></text><text class="d" x="205" y="79">0</text><text class="d" x="253" y="79">0</text><text class="d e" x="540" y="79">6</text><text class="d e" x="492" y="79">2</text></g>
<g transform="translate(0,901)"><text class="d e" x="24" y="79">54</text><text class="n" y="80"><tspan x="31">西　野</tspan><tspan x="67">･</tspan><tspan x="73">岩　本</tspan><tspan x="109">(</tspan><tspan x="164">)</tspan></text><text class="n" x="115" y="80" textLength="48" lengthAdjust="spacingAndGlyphs">Ｔ Ｓ Ｅ</text><text class="d e" x="588" y="79">110</text><text class="n" y="80"><tspan x="595">神　戸</tspan><tspan x="631">･</tspan><tspan x="637">田　中</tspan><tspan x="673">(</tspan><tspan x="679">東　　芝</tspan><tspan x="728">)</tspan></text><text class="d" x="205" y="79">6</text><text class="d" x="253" y="79">6</text><text class="d e" x="540" y="79">6</text><text class="d e" x="492" y="79">6</text></g>
<g transform="translate(0,918)"><text class="d e" x="24" y="79">55</text><text class="n" y="80"><tspan x="31">喜　多</tspan><tspan x="67">･</tspan><tspan x="73">日　沼</tspan><tspan x="109">(</tspan><tspan x="115">都交通局</tspan><tspan x="164">)</tspan></text><text class="d e" x="588" y="79">111</text><text class="n" y="80"><tspan x="595">横　田</tspan><tspan x="631">･</tspan><tspan x="637">佐々木</tspan><tspan x="673">(</tspan><tspan x="728">)</tspan></text><text class="n" x="679" y="80" textLength="48" lengthAdjust="spacingAndGlyphs">霞 農 協</text><text class="d" x="205" y="79">3</text><text class="d" x="229" y="79">2</text><text class="d e" x="540" y="79">4</text><text class="d e" x="516" y="79">0</text></g>
<g transform="translate(0,935)"><text class="d e" x="24" y="79">56</text><text class="n" y="80"><tspan x="31">西　村</tspan><tspan x="67">･</tspan><tspan x="73">水　村</tspan><tspan x="109">(</tspan><tspan x="115">青梅協会</tspan><tspan x="164">)</tspan></text><text class="d e" x="588" y="79">112</text><text class="n" y="80"><tspan x="595">木　下</tspan><tspan x="631">･</tspan><tspan x="637">片　桐</tspan><tspan x="673">(</tspan><tspan x="679">青梅協会</tspan><tspan x="728">)</tspan></text><text class="d" x="229" y="79">6</text><text class="d e" x="516" y="79">6</text></g>
</svg>
</body></html>
